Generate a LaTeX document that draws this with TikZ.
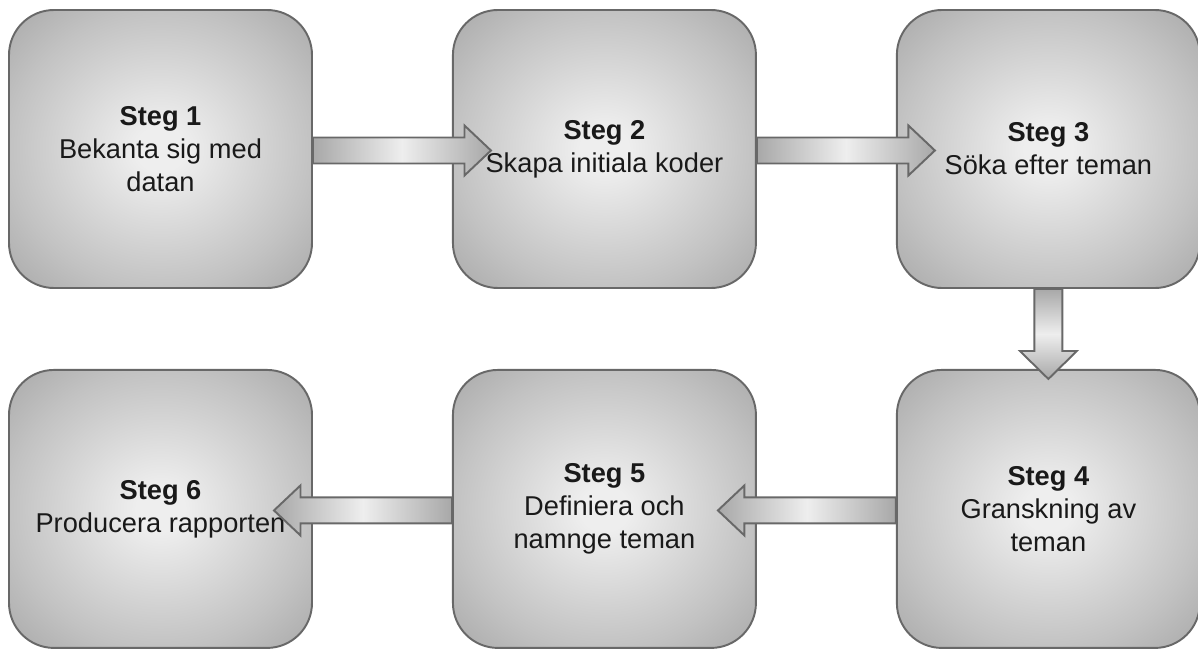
\documentclass[tikz,border=0pt]{standalone}
\usepackage{fontspec}
\setmainfont{Liberation Sans}
\usetikzlibrary{positioning,calc}

\definecolor{kant}{HTML}{686868}
\definecolor{ljus}{HTML}{EEEEEE}
\definecolor{mellan}{HTML}{C2C2C2}
\definecolor{mork}{HTML}{A8A8A8}

\pgfdeclareradialshading{rutskugga}{\pgfpoint{0bp}{0bp}}{color(0bp)=(ljus); color(4bp)=(ljus); color(25bp)=(mellan); color(36bp)=(mork); color(50bp)=(mork)}

% fat horizontal arrow: start, edge of target box, direction (1 right, -1 left)
\newcommand{\tjockpil}[3]{%
  \draw[pil, left color=mork, right color=mork, middle color=ljus]
    ($(#1)+(0,0.23)$) -- ($(#2)+(#3*0.25,0.23)$) -- ($(#2)+(#3*0.25,0.47)$)
    -- ($(#2)+(#3*0.78,-0.03)$) -- ($(#2)+(#3*0.25,-0.53)$)
    -- ($(#2)+(#3*0.25,-0.29)$) -- ($(#1)+(0,-0.29)$) -- cycle;}

\begin{document}
\begin{tikzpicture}[node distance=2.78cm,
    steg/.style={draw=kant, line width=1.1pt, rounded corners=0.9cm, shading=rutskugga,
      minimum width=6.06cm, minimum height=5.56cm, align=center, text=black!90,
      font=\fontsize{15.5pt}{18.7pt}\selectfont},
    pil/.style={draw=kant, line width=1.1pt, line join=miter}]

    \useasboundingbox (0,0) rectangle (23.96,12.98);

    % Top row
    \node[steg] (b1) at (3.21,10.0) {\textbf{Steg 1}\\Bekanta sig med\\datan};
    \node[steg, right=of b1] (b2) {\textbf{Steg 2}\\Skapa initiala koder};
    \node[steg, right=of b2] (b3) {\textbf{Steg 3}\\Söka efter teman};

    % Bottom row
    \node[steg, below=1.6cm of b3] (b4) {\textbf{Steg 4}\\Granskning av\\teman};
    \node[steg, left=of b4] (b5) {\textbf{Steg 5}\\Definiera och\\namnge teman};
    \node[steg, left=of b5] (b6) {\textbf{Steg 6}\\Producera rapporten};

    % Arrows
    \tjockpil{b1.east}{b2.west}{1}
    \tjockpil{b2.east}{b3.west}{1}
    \tjockpil{b4.west}{b5.east}{-1}
    \tjockpil{b5.west}{b6.east}{-1}

    \draw[pil, top color=mork, bottom color=mork, middle color=ljus]
      ($(b3.south)+(-0.28,0)$) -- ($(b4.north)+(-0.28,0.36)$) -- ($(b4.north)+(-0.57,0.36)$)
      -- ($(b4.north)+(0,-0.2)$) -- ($(b4.north)+(0.57,0.36)$)
      -- ($(b4.north)+(0.28,0.36)$) -- ($(b3.south)+(0.28,0)$) -- cycle;

\end{tikzpicture}
\end{document}
